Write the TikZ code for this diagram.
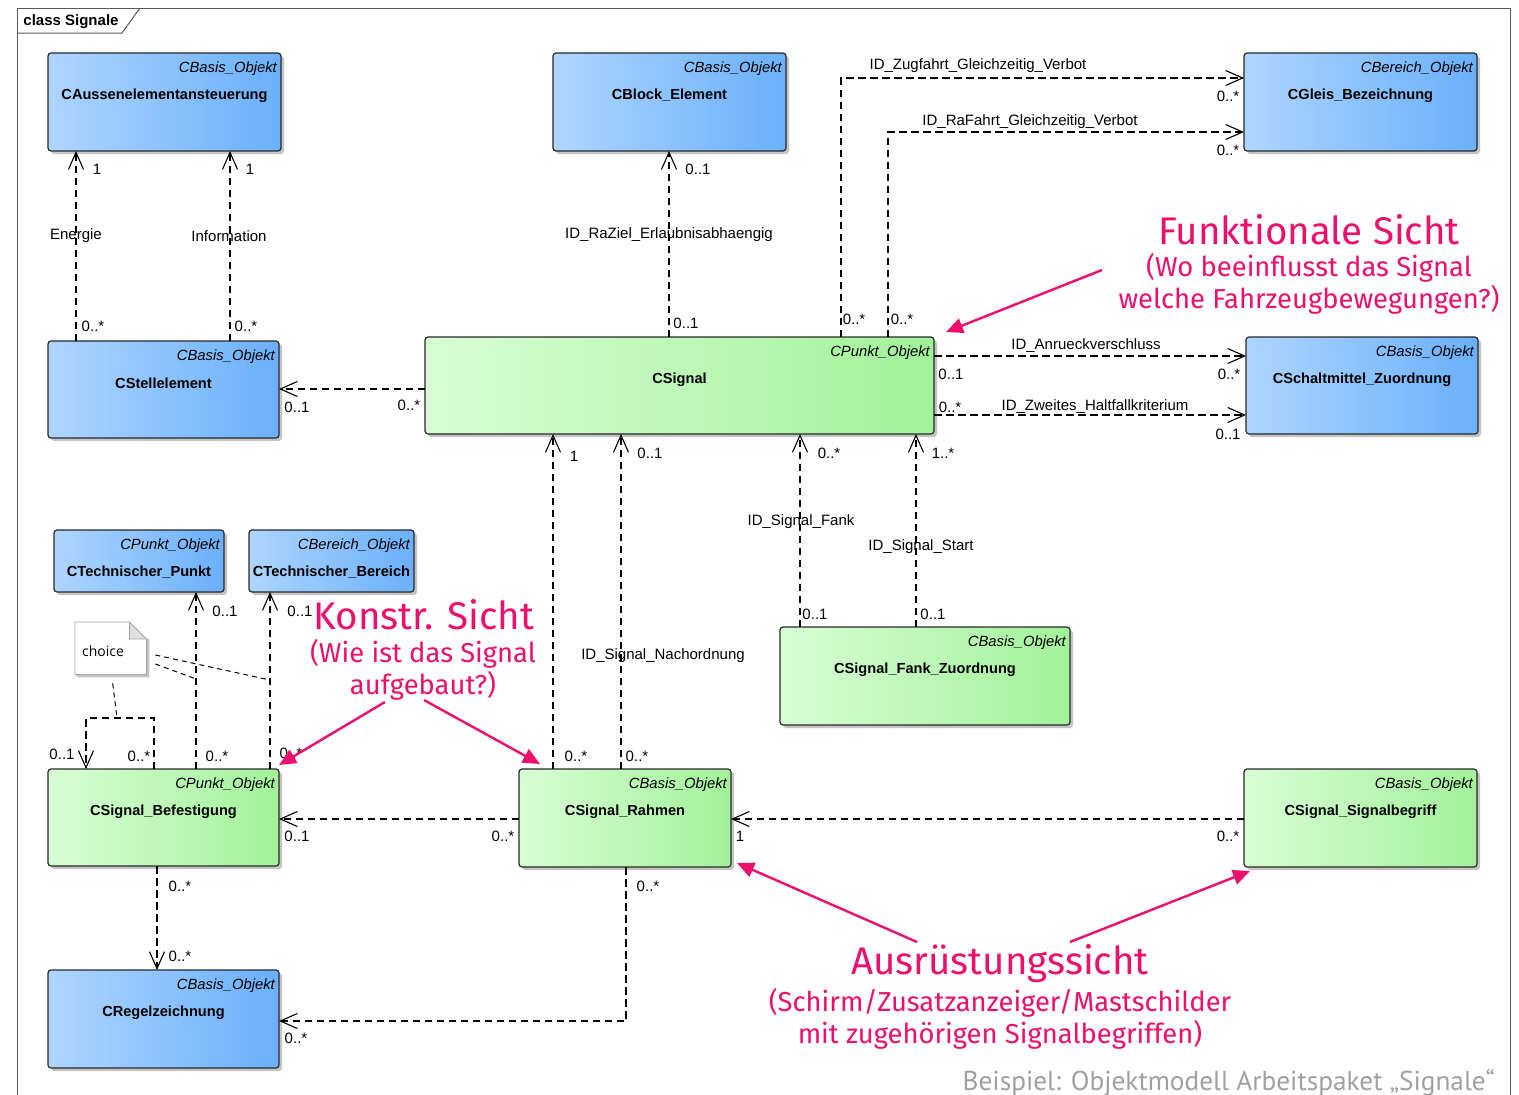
\documentclass[tikz,border=0pt]{standalone}
\usepackage{fontspec}
\setmainfont{Liberation Sans}
\newfontfamily\pinkfont{Fira Sans}
\newfontfamily\footfont{PT Sans}
\newfontfamily\notefont{Open Sans}
\usetikzlibrary{arrows.meta}
\definecolor{bluel}{RGB}{174,213,255}
\definecolor{bluer}{RGB}{106,176,250}
\definecolor{greenl}{RGB}{216,253,212}
\definecolor{greenr}{RGB}{162,242,154}
\definecolor{pinkc}{RGB}{238,14,108}
\definecolor{shad}{RGB}{196,196,196}
\definecolor{edgec}{RGB}{40,40,40}
\definecolor{framec}{RGB}{90,90,90}
\definecolor{footc}{RGB}{160,160,160}
\tikzset{
  box/.style={draw=edgec, line width=1.2pt, rounded corners=3pt, inner sep=0pt, outer sep=0pt},
  bluebox/.style={box, left color=bluel, right color=bluer},
  greenbox/.style={box, left color=greenl, right color=greenr},
  stereo/.style={font=\fontsize{14.8}{16}\selectfont\itshape, inner sep=0pt},
  cname/.style={font=\fontsize{14.6}{16}\selectfont\bfseries, inner sep=0pt},
  lbl/.style={font=\fontsize{15}{16}\selectfont, inner sep=0pt},
  assoc/.style={line width=1.1pt, dash pattern=on 7.5pt off 4.5pt,
    -{Straight Barb[length=17pt,width=15pt,line width=1.1pt]}},
  notelink/.style={line width=1pt, dash pattern=on 5pt off 4pt},
  pinkarrow/.style={pinkc, line width=2.4pt, -{Triangle[length=17pt,width=15pt]}},
  pinkbig/.style={text=pinkc, inner sep=0pt, font=\pinkfont\fontsize{38.5}{42}\selectfont},
  pinksmall/.style={text=pinkc, inner sep=0pt, font=\pinkfont\fontsize{27.4}{30}\selectfont},
}
\newcommand\umlbox[8]{%
  \fill[shad, rounded corners=3pt] (#2+3,#3+3) rectangle (#4+3,#5+3);
  \node[#8, anchor=north west, minimum width={#4-#2}, minimum height={#5-#3}] (#1) at (#2,#3) {};
  \node[stereo, anchor=east] (#1-st) at ([xshift=-4pt,yshift=-15.5pt]#1.north east) {#6};
  \node[cname] (#1-nm) at ([yshift=-42.5pt]#1.north) {#7};
}
\newcommand\lab[4]{\node[lbl] (#1) at (#2,#3+1) {#4};}
\begin{document}
\begin{tikzpicture}[x=1pt,y=-1pt]
\useasboundingbox (0,0) rectangle (1519,1095);
\fill[white] (0,0) rectangle (1519,1095);
% frame
\draw[framec, line width=1pt] (17,1110) -- (17,8) -- (1510,8) -- (1510,1110);
\draw[framec, line width=1pt] (17,33) -- (122,33) -- (140,8);
\node[cname, font=\fontsize{15}{16}\selectfont\bfseries] (title) at (71,22) {class Signale};
% boxes
\umlbox{aus}{48}{53}{281}{151}{CBasis\_Objekt}{CAussenelementansteuerung}{bluebox}
\umlbox{blk}{553}{53}{786}{151}{CBasis\_Objekt}{CBlock\_Element}{bluebox}
\umlbox{gleis}{1244}{53}{1477}{151}{CBereich\_Objekt}{CGleis\_Bezeichnung}{bluebox}
\umlbox{stell}{48}{341}{279}{438}{CBasis\_Objekt}{CStellelement}{bluebox}
\umlbox{sig}{425}{337}{934}{434}{CPunkt\_Objekt}{CSignal}{greenbox}
\umlbox{schalt}{1246}{337}{1478}{434}{CBasis\_Objekt}{CSchaltmittel\_Zuordnung}{bluebox}
\umlbox{tpkt}{54}{530}{224}{592}{CPunkt\_Objekt}{CTechnischer\_Punkt}{bluebox}
\umlbox{tber}{249}{530}{414}{592}{CBereich\_Objekt}{CTechnischer\_Bereich}{bluebox}
\umlbox{fank}{780}{627}{1070}{725}{CBasis\_Objekt}{CSignal\_Fank\_Zuordnung}{greenbox}
\umlbox{bef}{48}{769}{279}{866}{CPunkt\_Objekt}{CSignal\_Befestigung}{greenbox}
\umlbox{rah}{519}{769}{731}{867}{CBasis\_Objekt}{CSignal\_Rahmen}{greenbox}
\umlbox{sbeg}{1244}{769}{1477}{867}{CBasis\_Objekt}{CSignal\_Signalbegriff}{greenbox}
\umlbox{regel}{48}{970}{279}{1068}{CBasis\_Objekt}{CRegelzeichnung}{bluebox}
% note
\node[inner sep=0pt, minimum width=71, minimum height=52, anchor=north west] (note) at (75,622) {};
\fill[shad] ([xshift=3pt,yshift=-17pt]note.north east) -- ([xshift=3pt,yshift=-3pt]note.south east) -- ([xshift=3pt,yshift=-3pt]note.south west) -- (note.south west) -- (note.south east) -- ([yshift=-17pt]note.north east) -- cycle;
\draw[line width=0.8pt, draw=gray!70, fill=white] (note.north west) -- ([xshift=-17pt]note.north east) -- ([yshift=-17pt]note.north east) -- (note.south east) -- (note.south west) -- cycle;
\draw[line width=0.8pt, draw=gray!70, fill=gray!25] ([xshift=-17pt]note.north east) -- ([xshift=-17pt,yshift=-17pt]note.north east) -- ([yshift=-17pt]note.north east) -- cycle;
\node[inner sep=0pt, font=\notefont\fontsize{14}{15}\selectfont] (notetxt) at (103,651) {choice};
\coordinate (n1) at (270,680);
\coordinate (n2) at (196,679);
\coordinate (n3) at (117,718);
\draw[notelink] ([xshift=9pt,yshift=-33pt]note.north east) -- (n1);
\draw[notelink] ([xshift=9pt,yshift=-42pt]note.north east) -- (n2);
\draw[notelink] ([xshift=2pt,yshift=-9pt]note.south) -- (n3);
% connectors
\draw[assoc] ([xshift=28pt]stell.north west) -- ([xshift=28pt]stell.north west |- aus.south);
\draw[assoc] ([xshift=182pt]stell.north west) -- ([xshift=182pt]stell.north west |- aus.south);
\draw[assoc] ([xshift=244pt]sig.north west) -- ([xshift=244pt]sig.north west |- blk.south);
\draw[assoc] ([xshift=416pt]sig.north west) |- ([yshift=-25pt]gleis.north west);
\draw[assoc] ([xshift=463pt]sig.north west) |- ([yshift=-79pt]gleis.north west);
\draw[assoc] ([yshift=-52pt]sig.north west) -- ([yshift=-52pt]sig.north west -| stell.east);
\draw[assoc] ([yshift=-19pt]sig.north east) -- ([yshift=-19pt]sig.north east -| schalt.west);
\draw[assoc] ([yshift=-78pt]sig.north east) -- ([yshift=-78pt]sig.north east -| schalt.west);
\draw[assoc] ([xshift=34pt]rah.north west) -- ([xshift=34pt]rah.north west |- sig.south);
\draw[assoc] ([xshift=102pt]rah.north west) -- ([xshift=102pt]rah.north west |- sig.south);
\draw[assoc] ([xshift=20pt]fank.north west) -- ([xshift=20pt]fank.north west |- sig.south);
\draw[assoc] ([xshift=136pt]fank.north west) -- ([xshift=136pt]fank.north west |- sig.south);
\draw[assoc] ([xshift=148pt]bef.north west) -- ([xshift=148pt]bef.north west |- tpkt.south);
\draw[assoc] ([xshift=222pt]bef.north west) -- ([xshift=222pt]bef.north west |- tber.south);
\draw[assoc] ([xshift=106pt]bef.north west) -- ++(0,-51) -| ([xshift=38pt]bef.north west);
\draw[assoc] ([yshift=-50pt]rah.north west) -- ([yshift=-50pt]rah.north west -| bef.east);
\draw[assoc] ([yshift=-50pt]sbeg.north west) -- ([yshift=-50pt]sbeg.north west -| rah.east);
\draw[assoc] ([xshift=109pt]bef.south west) -- ([xshift=109pt]bef.south west |- regel.north);
\draw[assoc] ([xshift=107pt]rah.south west) |- ([yshift=-51pt]regel.north east);
% labels
\lab{l1}{97}{168}{1}
\lab{l2}{93}{325}{0..*}
\lab{l3}{76}{235}{Energie}
\lab{l4}{250}{168}{1}
\lab{l5}{246}{325}{0..*}
\lab{l6}{229}{235}{Information}
\lab{l7}{698}{168}{0..1}
\lab{l8}{686}{322}{0..1}
\lab{l9}{669}{234}{ID\_RaZiel\_Erlaubnisabhaengig}
\lab{l10}{978}{65}{ID\_Zugfahrt\_Gleichzeitig\_Verbot}
\lab{l11}{1228}{95}{0..*}
\lab{l12}{854}{318}{0..*}
\lab{l13}{1030}{121}{ID\_RaFahrt\_Gleichzeitig\_Verbot}
\lab{l14}{1228}{149}{0..*}
\lab{l15}{902}{318}{0..*}
\lab{l16}{297}{406}{0..1}
\lab{l17}{409}{404}{0..*}
\lab{l18}{1086}{345}{ID\_Anrueckverschluss}
\lab{l19}{951}{373}{0..1}
\lab{l20}{1229}{373}{0..*}
\lab{l21}{1095}{406}{ID\_Zweites\_Haltfallkriterium}
\lab{l22}{950}{406}{0..*}
\lab{l23}{1228}{433}{0..1}
\lab{l24}{574}{455}{1}
\lab{l25}{576}{755}{0..*}
\lab{l26}{650}{452}{0..1}
\lab{l27}{637}{755}{0..*}
\lab{l28}{663}{655}{ID\_Signal\_Nachordnung}
\lab{l29}{829}{452}{0..*}
\lab{l30}{815}{613}{0..1}
\lab{l31}{801}{521}{ID\_Signal\_Fank}
\lab{l32}{943}{452}{1..*}
\lab{l33}{933}{613}{0..1}
\lab{l34}{921}{546}{ID\_Signal\_Start}
\lab{l35}{225}{610}{0..1}
\lab{l36}{217}{755}{0..*}
\lab{l37}{300}{610}{0..1}
\lab{l38}{291}{752}{0..*}
\lab{l39}{62}{753}{0..1}
\lab{l40}{139}{755}{0..*}
\lab{l41}{297}{835}{0..1}
\lab{l42}{503}{835}{0..*}
\lab{l43}{740}{835}{1}
\lab{l44}{1228}{835}{0..*}
\lab{l45}{180}{885}{0..*}
\lab{l46}{180}{955}{0..*}
\lab{l47}{648}{885}{0..*}
\lab{l48}{296}{1037}{0..*}
% pink annotations
\node[pinkbig] (fs1) at (1309,230) {Funktionale Sicht};
\node[pinksmall] (fs2) at (1309,268) {(Wo beeinflusst das Signal};
\node[pinksmall] (fs3) at (1309,300) {welche Fahrzeugbewegungen?)};
\node[pinkbig] (ks1) at (424,615) {Konstr. Sicht};
\node[pinksmall] (ks2) at (423,654) {(Wie ist das Signal};
\node[pinksmall] (ks3) at (423,686) {aufgebaut?)};
\node[pinkbig] (as1) at (1000,964) {Ausrüstungssicht};
\node[pinksmall] (as2) at (1000,1003) {(Schirm/Zusatzanzeiger/Mastschilder};
\node[pinksmall] (as3) at (1000,1035) {mit zugehörigen Signalbegriffen)};
\coordinate (fa) at (1102,270);
\coordinate (ka) at (385,702);
\coordinate (kb) at (424,700);
\coordinate (aa) at (917,942);
\coordinate (ab) at (1070,942);
\draw[pinkarrow] (fa) -- ([xshift=12pt,yshift=5pt]sig.north east);
\draw[pinkarrow] (ka) -- ([yshift=4pt]bef.north east);
\draw[pinkarrow] (kb) -- ([xshift=21pt,yshift=5pt]rah.north west);
\draw[pinkarrow] (aa) -- ([xshift=6pt,yshift=4pt]rah.south east);
\draw[pinkarrow] (ab) -- ([xshift=6pt,yshift=-4pt]sbeg.south west);
% footer
\node[anchor=base east, inner sep=0pt, text=footc, font=\footfont\fontsize{27.3}{30}\selectfont] (foot) at (1495,1090) {Beispiel: Objektmodell Arbeitspaket „Signale“};
\end{tikzpicture}
\end{document}
